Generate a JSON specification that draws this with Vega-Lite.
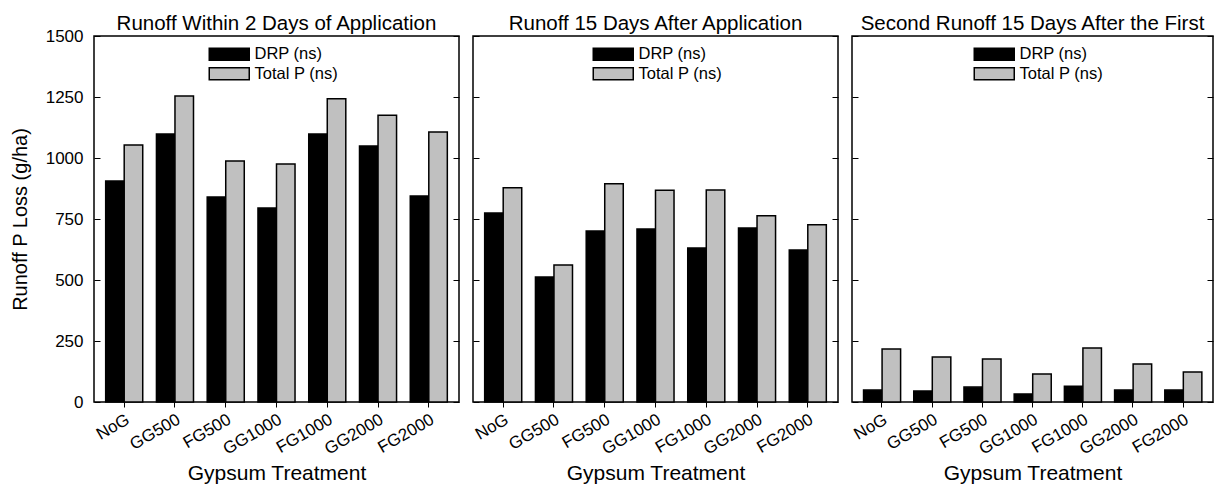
{
  "$schema": "https://vega.github.io/schema/vega-lite/v6.json",
  "padding": {"left": 9, "top": 12, "right": 0, "bottom": 0},
  "background": "white",
  "bounds": "flush",
  "spacing": 14,
  "data": {"values": [
    {"panel": "A", "treatment": "NoG", "series": "DRP (ns)", "value": 906},
    {"panel": "A", "treatment": "NoG", "series": "Total P (ns)", "value": 1053},
    {"panel": "A", "treatment": "GG500", "series": "DRP (ns)", "value": 1098},
    {"panel": "A", "treatment": "GG500", "series": "Total P (ns)", "value": 1254},
    {"panel": "A", "treatment": "FG500", "series": "DRP (ns)", "value": 840},
    {"panel": "A", "treatment": "FG500", "series": "Total P (ns)", "value": 988},
    {"panel": "A", "treatment": "GG1000", "series": "DRP (ns)", "value": 795},
    {"panel": "A", "treatment": "GG1000", "series": "Total P (ns)", "value": 975},
    {"panel": "A", "treatment": "FG1000", "series": "DRP (ns)", "value": 1098},
    {"panel": "A", "treatment": "FG1000", "series": "Total P (ns)", "value": 1243},
    {"panel": "A", "treatment": "GG2000", "series": "DRP (ns)", "value": 1049},
    {"panel": "A", "treatment": "GG2000", "series": "Total P (ns)", "value": 1175},
    {"panel": "A", "treatment": "FG2000", "series": "DRP (ns)", "value": 844},
    {"panel": "A", "treatment": "FG2000", "series": "Total P (ns)", "value": 1107},
    {"panel": "B", "treatment": "NoG", "series": "DRP (ns)", "value": 775},
    {"panel": "B", "treatment": "NoG", "series": "Total P (ns)", "value": 878},
    {"panel": "B", "treatment": "GG500", "series": "DRP (ns)", "value": 512},
    {"panel": "B", "treatment": "GG500", "series": "Total P (ns)", "value": 561},
    {"panel": "B", "treatment": "FG500", "series": "DRP (ns)", "value": 701},
    {"panel": "B", "treatment": "FG500", "series": "Total P (ns)", "value": 894},
    {"panel": "B", "treatment": "GG1000", "series": "DRP (ns)", "value": 709},
    {"panel": "B", "treatment": "GG1000", "series": "Total P (ns)", "value": 868},
    {"panel": "B", "treatment": "FG1000", "series": "DRP (ns)", "value": 631},
    {"panel": "B", "treatment": "FG1000", "series": "Total P (ns)", "value": 869},
    {"panel": "B", "treatment": "GG2000", "series": "DRP (ns)", "value": 713},
    {"panel": "B", "treatment": "GG2000", "series": "Total P (ns)", "value": 763},
    {"panel": "B", "treatment": "FG2000", "series": "DRP (ns)", "value": 623},
    {"panel": "B", "treatment": "FG2000", "series": "Total P (ns)", "value": 726},
    {"panel": "C", "treatment": "NoG", "series": "DRP (ns)", "value": 49},
    {"panel": "C", "treatment": "NoG", "series": "Total P (ns)", "value": 217},
    {"panel": "C", "treatment": "GG500", "series": "DRP (ns)", "value": 45},
    {"panel": "C", "treatment": "GG500", "series": "Total P (ns)", "value": 184},
    {"panel": "C", "treatment": "FG500", "series": "DRP (ns)", "value": 61},
    {"panel": "C", "treatment": "FG500", "series": "Total P (ns)", "value": 176},
    {"panel": "C", "treatment": "GG1000", "series": "DRP (ns)", "value": 33},
    {"panel": "C", "treatment": "GG1000", "series": "Total P (ns)", "value": 115},
    {"panel": "C", "treatment": "FG1000", "series": "DRP (ns)", "value": 65},
    {"panel": "C", "treatment": "FG1000", "series": "Total P (ns)", "value": 221},
    {"panel": "C", "treatment": "GG2000", "series": "DRP (ns)", "value": 49},
    {"panel": "C", "treatment": "GG2000", "series": "Total P (ns)", "value": 156},
    {"panel": "C", "treatment": "FG2000", "series": "DRP (ns)", "value": 49},
    {"panel": "C", "treatment": "FG2000", "series": "Total P (ns)", "value": 123}
  ]},
  "hconcat": [
    {
      "width": 365, "height": 366,
      "title": {"text": "Runoff Within 2 Days of Application", "offset": -7},
      "transform": [{"filter": "datum.panel === 'A'"}],
      "layer": [
        {
          "mark": {"type": "bar", "stroke": "black", "strokeWidth": 1.5},
          "encoding": {
            "x": {"field": "treatment", "type": "nominal", "sort": ["NoG","GG500","FG500","GG1000","FG1000","GG2000","FG2000"], "scale": {"paddingInner": 0.27, "paddingOuter": 0.23}, "title": "Gypsum Treatment"},
            "xOffset": {"field": "series", "type": "nominal", "sort": ["DRP (ns)", "Total P (ns)"], "scale": {"paddingInner": 0, "paddingOuter": 0}},
            "y": {"field": "value", "type": "quantitative", "scale": {"domain": [0, 1500], "nice": false, "zero": true},
                  "axis": {"values": [0,250,500,750,1000,1250,1500], "format": "d", "tickSize": -6, "labelPadding": 17, "labelFontSize": 17, "title": "Runoff P Loss (g/ha)", "titleFontSize": 20, "titlePadding": 15}},
            "color": {"field": "series", "type": "nominal", "scale": {"domain": ["DRP (ns)", "Total P (ns)"], "range": ["#000000", "#c0c0c0"]},
                      "legend": {"legendX": 127, "legendY": 10}}
          }
        },
        {
          "mark": {"type": "bar", "opacity": 0},
          "encoding": {
            "x": {"field": "treatment", "type": "nominal", "sort": ["NoG","GG500","FG500","GG1000","FG1000","GG2000","FG2000"], "title": "Gypsum Treatment"},
            "xOffset": {"field": "series", "type": "nominal", "sort": ["DRP (ns)", "Total P (ns)"]},
            "y": {"field": "value", "type": "quantitative", "axis": {"orient": "right", "values": [0,250,500,750,1000,1250,1500], "labels": false, "title": null, "tickSize": -6}}
          }
        }
      ],
      "resolve": {"axis": {"y": "independent"}}
    },
    {
      "width": 365, "height": 366,
      "title": {"text": "Runoff 15 Days After Application", "offset": 1},
      "transform": [{"filter": "datum.panel === 'B'"}],
      "layer": [
        {
          "mark": {"type": "bar", "stroke": "black", "strokeWidth": 1.5},
          "encoding": {
            "x": {"field": "treatment", "type": "nominal", "sort": ["NoG","GG500","FG500","GG1000","FG1000","GG2000","FG2000"], "scale": {"paddingInner": 0.27, "paddingOuter": 0.23}, "title": "Gypsum Treatment"},
            "xOffset": {"field": "series", "type": "nominal", "sort": ["DRP (ns)", "Total P (ns)"], "scale": {"paddingInner": 0, "paddingOuter": 0}},
            "y": {"field": "value", "type": "quantitative", "scale": {"domain": [0, 1500], "nice": false, "zero": true},
                  "axis": {"values": [0,250,500,750,1000,1250,1500], "tickSize": -6, "labels": false, "title": null}},
            "color": {"field": "series", "type": "nominal", "scale": {"domain": ["DRP (ns)", "Total P (ns)"], "range": ["#000000", "#c0c0c0"]},
                      "legend": {"legendX": 132, "legendY": 10}}
          }
        },
        {
          "mark": {"type": "bar", "opacity": 0},
          "encoding": {
            "x": {"field": "treatment", "type": "nominal", "sort": ["NoG","GG500","FG500","GG1000","FG1000","GG2000","FG2000"], "title": "Gypsum Treatment"},
            "xOffset": {"field": "series", "type": "nominal", "sort": ["DRP (ns)", "Total P (ns)"]},
            "y": {"field": "value", "type": "quantitative", "axis": {"orient": "right", "values": [0,250,500,750,1000,1250,1500], "labels": false, "title": null, "tickSize": -6}}
          }
        }
      ],
      "resolve": {"axis": {"y": "independent"}}
    },
    {
      "width": 361, "height": 366,
      "title": {"text": "Second Runoff 15 Days After the First", "offset": 1},
      "transform": [{"filter": "datum.panel === 'C'"}],
      "layer": [
        {
          "mark": {"type": "bar", "stroke": "black", "strokeWidth": 1.5},
          "encoding": {
            "x": {"field": "treatment", "type": "nominal", "sort": ["NoG","GG500","FG500","GG1000","FG1000","GG2000","FG2000"], "scale": {"paddingInner": 0.27, "paddingOuter": 0.23}, "title": "Gypsum Treatment"},
            "xOffset": {"field": "series", "type": "nominal", "sort": ["DRP (ns)", "Total P (ns)"], "scale": {"paddingInner": 0, "paddingOuter": 0}},
            "y": {"field": "value", "type": "quantitative", "scale": {"domain": [0, 1500], "nice": false, "zero": true},
                  "axis": {"values": [0,250,500,750,1000,1250,1500], "tickSize": -6, "labels": false, "title": null}},
            "color": {"field": "series", "type": "nominal", "scale": {"domain": ["DRP (ns)", "Total P (ns)"], "range": ["#000000", "#c0c0c0"]},
                      "legend": {"legendX": 134, "legendY": 10}}
          }
        },
        {
          "mark": {"type": "bar", "opacity": 0},
          "encoding": {
            "x": {"field": "treatment", "type": "nominal", "sort": ["NoG","GG500","FG500","GG1000","FG1000","GG2000","FG2000"], "title": "Gypsum Treatment"},
            "xOffset": {"field": "series", "type": "nominal", "sort": ["DRP (ns)", "Total P (ns)"]},
            "y": {"field": "value", "type": "quantitative", "axis": {"orient": "right", "values": [0,250,500,750,1000,1250,1500], "labels": false, "title": null, "tickSize": -6}}
          }
        }
      ],
      "resolve": {"axis": {"y": "independent"}}
    }
  ],
  "resolve": {"scale": {"color": "independent"}, "legend": {"color": "independent"}},
  "config": {
    "font": "Liberation Sans",
    "view": {"stroke": "black", "strokeWidth": 1.5},
    "title": {"fontSize": 20.5, "fontWeight": "normal", "color": "black", "anchor": "middle"},
    "axis": {"grid": false, "domain": false, "tickColor": "black", "tickWidth": 1, "labelColor": "black", "titleColor": "black", "titleFontWeight": "normal"},
    "axisX": {"labelAngle": -30, "labelAlign": "right", "labelBaseline": "top", "labelFontSize": 17, "tickSize": 5, "labelPadding": 4, "titleFontSize": 21, "titlePadding": 6},
    "legend": {"orient": "none", "title": null, "symbolType": "M-3.333,-1H3.333V1H-3.333Z", "symbolSize": 144, "symbolStrokeColor": "black", "symbolStrokeWidth": 1.5, "symbolOpacity": 1, "labelFontSize": 16.5, "labelColor": "black", "labelOffset": 17, "rowPadding": 0.5, "padding": 0}
  }
}
